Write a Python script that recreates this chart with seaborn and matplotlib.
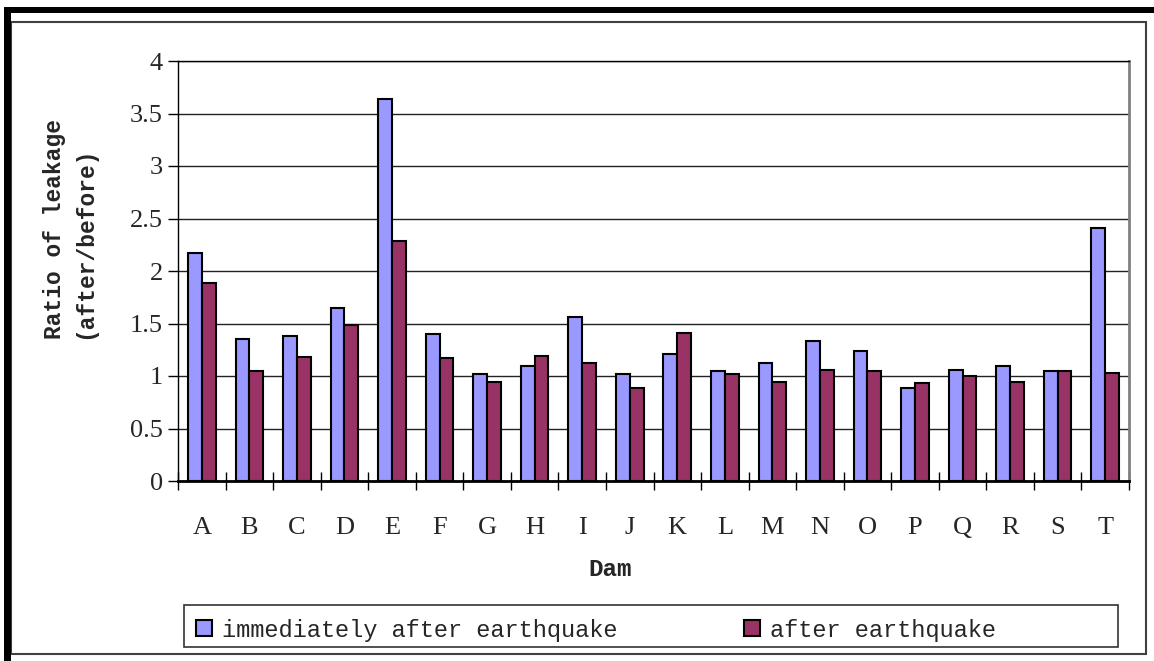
import matplotlib
matplotlib.use('Agg')
import matplotlib.pyplot as plt
from matplotlib.patches import Rectangle, Patch
import numpy as np
import pandas as pd
import seaborn as sns

# data
dams = ['A', 'B', 'C', 'D', 'E', 'F', 'G', 'H', 'I', 'J',
        'K', 'L', 'M', 'N', 'O', 'P', 'Q', 'R', 'S', 'T']
immediately_after = [2.17, 1.35, 1.38, 1.65, 3.64, 1.40, 1.02, 1.10, 1.56, 1.02,
                     1.21, 1.05, 1.12, 1.33, 1.24, 0.89, 1.06, 1.10, 1.05, 2.41]
after = [1.89, 1.05, 1.18, 1.49, 2.29, 1.17, 0.94, 1.19, 1.12, 0.89,
         1.41, 1.02, 0.94, 1.06, 1.05, 0.93, 1.00, 0.94, 1.05, 1.03]
series_names = ['immediately after earthquake', 'after earthquake']
colors = ['#9999FF', '#993366']
ytick_values = [0, 0.5, 1, 1.5, 2, 2.5, 3, 3.5, 4]
ytick_labels = ['0', '0.5', '1', '1.5', '2', '2.5', '3', '3.5', '4']

df = pd.DataFrame({
    'dam': dams * 2,
    'ratio': immediately_after + after,
    'series': [series_names[0]] * len(dams) + [series_names[1]] * len(dams),
})

sns.set_style('white')
plt.rcParams['font.family'] = ['Liberation Serif', 'DejaVu Serif']
mono = ['Liberation Mono', 'DejaVu Sans Mono']

W, H = 1154, 661
fig = plt.figure(figsize=(W / 100, H / 100), dpi=100)
fig.patch.set_facecolor('white')
ax = fig.add_axes([178 / W, 1 - 481 / H, (1129 - 178) / W, (481 - 61) / H])

sns.barplot(data=df, x='dam', y='ratio', hue='series', hue_order=series_names,
            palette=colors, saturation=1, width=0.58, gap=0, edgecolor='black',
            linewidth=1.5, legend=False, ax=ax)

ax.set_xlim(-0.5, len(dams) - 0.5)
ax.set_ylim(0, 4)
ax.set_axisbelow(True)

# y axis
ax.set_yticks(ytick_values)
ax.set_yticklabels(ytick_labels)
ax.yaxis.grid(True, color='#222222', linewidth=1)
ax.xaxis.grid(False)
ax.tick_params(axis='y', direction='out', length=7, width=1, color='black',
               pad=4, labelsize=19, left=True)

# x axis: labels at centres, crossing ticks at boundaries
ax.set_xticks(range(len(dams)))
ax.set_xticklabels(dams)
ax.tick_params(axis='x', which='major', length=0, pad=26, labelsize=19)
ax.set_xticks(np.arange(-0.5, len(dams)), minor=True)
ax.tick_params(axis='x', which='minor', direction='inout', length=13, width=1,
               color='black', bottom=True)

for side in ['left', 'top']:
    ax.spines[side].set_color('black')
    ax.spines[side].set_linewidth(1)
ax.spines['bottom'].set_color('black')
ax.spines['bottom'].set_linewidth(2)
ax.spines['right'].set_color('#808080')
ax.spines['right'].set_linewidth(2)

ax.set_ylabel('Ratio of leakage\n(after/before)', family=mono, weight='bold',
              fontsize=16.5, linespacing=1.4, multialignment='left')
ax.yaxis.set_label_coords(-0.086, 0.6)
ax.set_xlabel('Dam', family=mono, weight='bold', fontsize=17.5)
ax.xaxis.set_label_coords(0.454, -0.183)

# legend
handles = [Patch(facecolor=c, edgecolor='black', linewidth=1.5) for c in colors]
fig.legend(handles, series_names, loc='center left',
           bbox_to_anchor=(196 / W, 1 - 630 / H), ncol=2, frameon=False,
           prop={'family': mono, 'size': 17}, handlelength=0.68,
           handleheight=0.68, handletextpad=0.42, columnspacing=5.34,
           borderpad=0, borderaxespad=0)
fig.add_artist(Rectangle((184 / W, 1 - 647 / H), (1118 - 184) / W, (647 - 605) / H,
                         fill=False, edgecolor='#333333', linewidth=1.2,
                         transform=fig.transFigure))

# chart frame
fig.add_artist(Rectangle((11 / W, 1 - 654 / H), (1146 - 11) / W, (654 - 22) / H,
                         fill=False, edgecolor='#404040', linewidth=1.5,
                         transform=fig.transFigure))
fig.add_artist(Rectangle((5 / W, 1 - 13 / H), (W - 5) / W, 6 / H,
                         facecolor='black', edgecolor='none',
                         transform=fig.transFigure))
fig.add_artist(Rectangle((4 / W, 0), 7 / W, 1 - 7 / H,
                         facecolor='black', edgecolor='none',
                         transform=fig.transFigure))

fig.savefig('out.png', dpi=100)
